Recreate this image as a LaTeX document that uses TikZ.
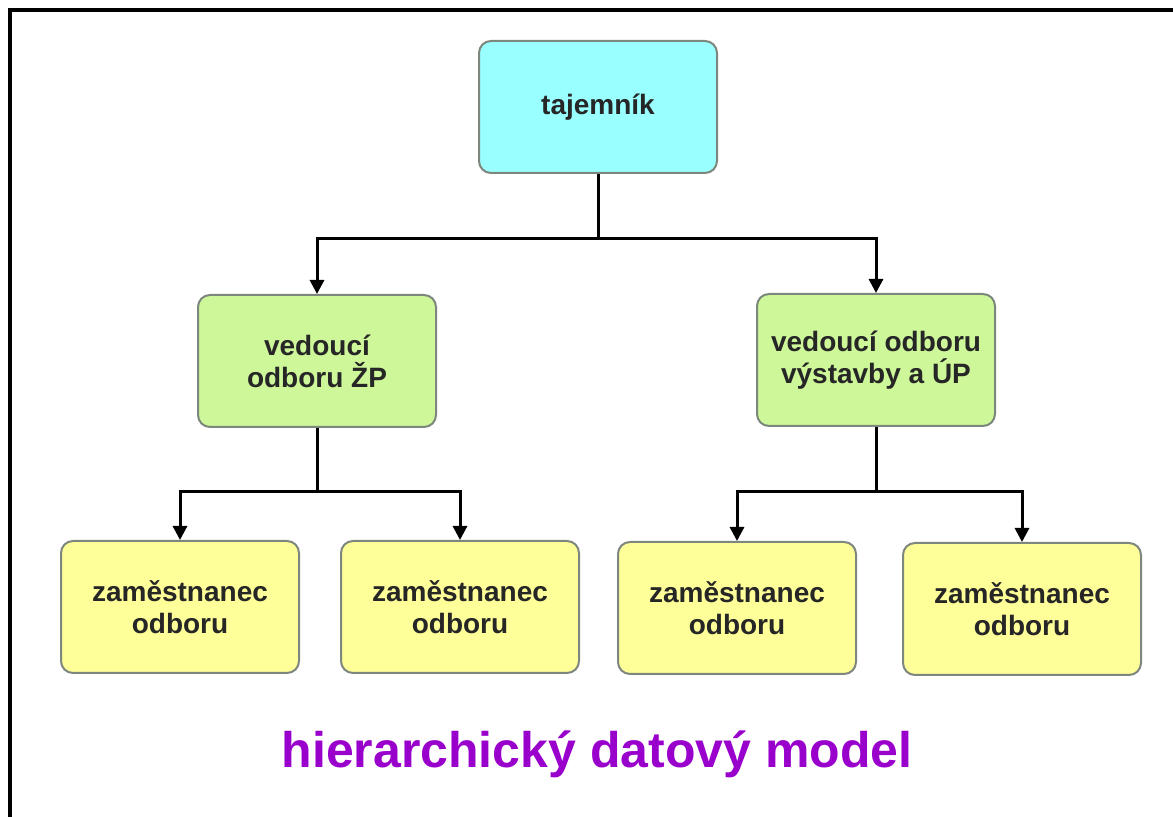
\documentclass[tikz,border=0pt]{standalone}
\usepackage{fontspec}
\setmainfont{Liberation Sans}
\usetikzlibrary{calc}
\usetikzlibrary{arrows.meta}

\definecolor{tajcyan}{RGB}{153,255,255}
\definecolor{vedgreen}{RGB}{206,247,153}
\definecolor{zamyellow}{RGB}{255,255,153}
\definecolor{boxgray}{RGB}{125,135,125}
\definecolor{titlepurple}{RGB}{153,0,204}

\begin{document}
\begin{tikzpicture}[%
  >={Triangle[length=7pt,width=7pt]},
  x=0.5pt, y=-0.5pt,
  box/.style={draw=boxgray, line width=1pt, rounded corners=6pt,
    minimum width=119pt, minimum height=66pt, align=center,
    font=\fontsize{14}{16}\selectfont\bfseries, text=black!85},
  link/.style={->, line width=1.5pt}
]

  \useasboundingbox (0,0) rectangle (1173,817);
  \draw[line width=2pt] (9.5,817) -- (9.5,10.5) -- (1173,10.5);

  \node[box, fill=tajcyan] (taj) at (598,107) {tajemník};

  \node[box, fill=vedgreen] (vZP) at (317,361) {vedoucí\\odboru ŽP};
  \node[box, fill=vedgreen] (vUP) at (876,360) {vedoucí odboru\\výstavby a ÚP};

  \node[box, fill=zamyellow] (z1) at (180,607) {zaměstnanec\\odboru};
  \node[box, fill=zamyellow] (z2) at (460,607) {zaměstnanec\\odboru};
  \node[box, fill=zamyellow] (z3) at (737,608) {zaměstnanec\\odboru};
  \node[box, fill=zamyellow] (z4) at (1022,609) {zaměstnanec\\odboru};

  \coordinate (tj) at ($(taj.south)+(0,65)$);
  \coordinate (zpj) at ($(vZP.south)+(0,64)$);
  \coordinate (upj) at ($(vUP.south)+(0,65)$);

  \draw[link] (taj.south) -- (tj) -| (vZP.north);
  \draw[link] (tj) -| (vUP.north);

  \draw[link] (vZP.south) -- (zpj) -| (z1.north);
  \draw[link] (zpj) -| (z2.north);
  \draw[link] (vUP.south) -- (upj) -| (z3.north);
  \draw[link] (upj) -| (z4.north);

  \node[anchor=base, font=\fontsize{25}{30}\selectfont\bfseries,
    text=titlepurple] (title) at (597,768) {hierarchický datový model};

\end{tikzpicture}
\end{document}
